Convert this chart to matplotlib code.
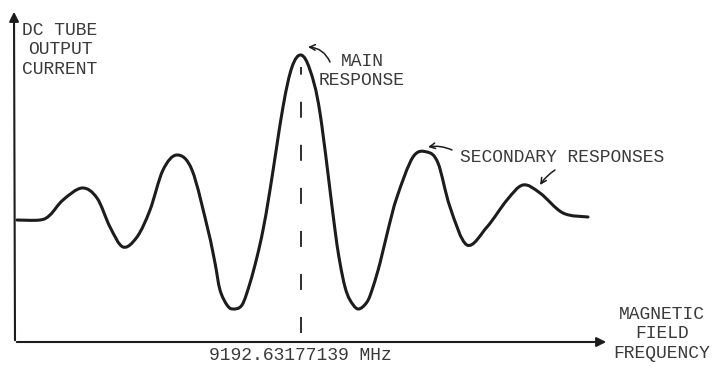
import numpy as np
import matplotlib.pyplot as plt
from matplotlib.path import Path
from matplotlib.patches import PathPatch

plt.rcParams['font.family'] = ['Liberation Mono', 'DejaVu Sans Mono']
plt.rcParams['lines.scale_dashes'] = False

# frequency offset from the centre line, and tube current (arbitrary units)
freq = [-284, -261, -251, -238, -219, -204, -191, -178, -164, -151, -138, -124,
        -109, -93, -86, -81, -74, -68, -59, -51, -44, -38, -31, -18, -9, 0,
        9, 19, 34, 39, 44, 49, 57, 66, 72, 79, 87, 96, 112, 126, 137, 149,
        166, 186, 206, 222, 239, 262, 287]
current = [123, 123, 128, 143, 155, 145, 116, 96, 106, 133, 173, 188,
           173, 113, 80, 53, 38, 34, 38, 60, 86, 113, 153, 236, 276, 288,
           273, 230, 113, 80, 56, 43, 34, 41, 56, 80, 113, 146, 186, 191, 180, 136,
           98, 116, 143, 158, 150, 130, 126]

center_label = '9192.63177139 MHz'
y_label = 'DC TUBE\nOUTPUT\nCURRENT'
x_label = 'MAGNETIC\nFIELD\nFREQUENCY'

ink = '#1c1c1c'
type_ink = '#3a3a3a'


def smooth_path(xs, ys):
    # cubic bezier segments through every point (catmull-rom tangents)
    p = np.column_stack([xs, ys]).astype(float)
    p = np.vstack([p[0], p, p[-1]])
    verts = [p[1]]
    codes = [Path.MOVETO]
    for i in range(1, len(p) - 2):
        c1 = p[i] + (p[i + 1] - p[i - 1]) / 6
        c2 = p[i + 1] - (p[i + 2] - p[i]) / 6
        verts += [c1, c2, p[i + 1]]
        codes += [Path.CURVE4] * 3
    return Path(verts, codes)


fig = plt.figure(figsize=(7.17, 3.70), dpi=100)
ax = fig.add_axes([0, 0, 1, 1])
ax.set_xlim(-301, 416)
ax.set_ylim(-27, 343)
ax.axis('off')

# axes drawn by hand with arrow heads
ax.annotate('', xy=(-287, 334), xytext=(-286, 0),
            arrowprops=dict(arrowstyle='-|>', color=ink, lw=1.5, mutation_scale=14))
ax.annotate('', xy=(308, 1), xytext=(-287, 1),
            arrowprops=dict(arrowstyle='-|>', color=ink, lw=1.5, mutation_scale=14))

# response curve
ax.add_patch(PathPatch(smooth_path(freq, current), facecolor='none', edgecolor=ink,
                       lw=2.2, joinstyle='round', capstyle='round'))

# centre frequency marker
ax.plot([0, 0], [10, 276], color=ink, lw=1.3, linestyle=(0, (11.5, 19.5)))

ax.text(-241, 293, y_label, ha='center', va='center', fontsize=13,
        color=type_ink, linespacing=1.2)
ax.text(361, 9, x_label, ha='center', va='center', fontsize=13,
        color=type_ink, linespacing=1.22)
ax.text(-1, -12, center_label, ha='center', va='center', fontsize=13, color=type_ink)

ax.text(61, 272, 'MAIN\nRESPONSE', ha='center', va='center', fontsize=13,
        color=type_ink, linespacing=1.22)
ax.text(159, 185, 'SECONDARY RESPONSES', ha='left', va='center', fontsize=13,
        color=type_ink)

arrow = dict(arrowstyle='->', color=ink, lw=1.1, mutation_scale=10,
             shrinkA=0, shrinkB=0)
ax.annotate('', xy=(7, 296), xytext=(29, 281),
            arrowprops=dict(arrow, connectionstyle='arc3,rad=0.3'))
ax.annotate('', xy=(127, 196), xytext=(151, 193),
            arrowprops=dict(arrow, connectionstyle='arc3,rad=0.15'))
ax.annotate('', xy=(239, 158), xytext=(254, 173),
            arrowprops=dict(arrow, connectionstyle='arc3,rad=0.1'))

fig.savefig('out.png', dpi=100, facecolor='white')
